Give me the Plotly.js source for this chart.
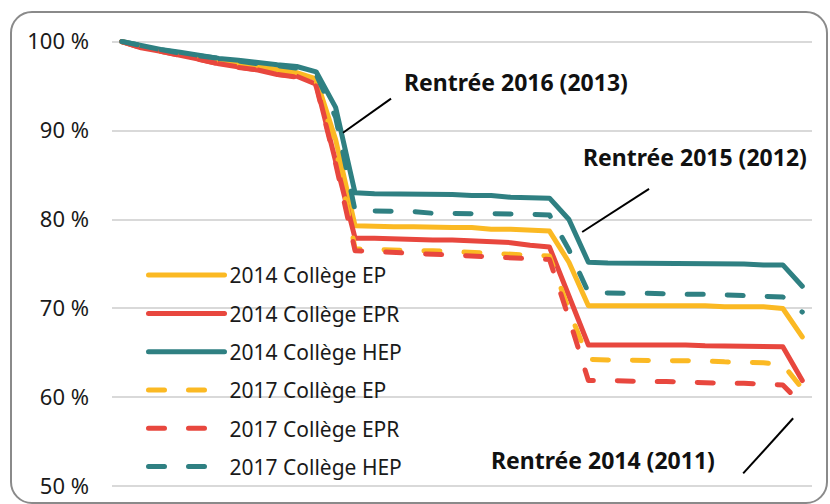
<!DOCTYPE html>
<html>
<head>
<meta charset="utf-8">
<script src="https://cdn.plot.ly/plotly-3.0.1.min.js"></script>
<style>
  html, body { margin: 0; padding: 0; background: #fff; }
  #wrap { position: relative; width: 830px; height: 504px; overflow: hidden; }
  #chart { position: absolute; left: 0; top: 0; width: 830px; height: 504px; }
  #frame { position: absolute; left: 10px; top: 11px; right: 2px; bottom: 0px;
           border: 2px solid #8a8a8a; border-radius: 22px; pointer-events: none; }
  #chart .scatterlayer path.js-line, #chart .legendlines path { stroke-linecap: round; stroke-linejoin: round; }
</style>
</head>
<body>
<div id="wrap">
  <div id="chart"></div>
  <div id="frame"></div>
</div>
<script>
// Month index (no labels shown on the x axis)
const months = [0,1,2,3,4,5,6,7,8,9,10,11,12,13,14,15,16,17,18,19,20,21,22,23,24,25,26,27,28,29,30,31,32,33,34,35];

const seriesNames = ["2014 Collège EP","2014 Collège EPR","2014 Collège HEP","2017 Collège EP","2017 Collège EPR","2017 Collège HEP"];

const ep2014  = [100,99.4,99.0,98.6,98.2,97.8,97.5,97.2,96.9,96.5,95.8,89.0,79.3,79.2,79.2,79.2,79.1,79.1,79.1,78.9,78.9,78.8,78.7,75.2,70.3,70.3,70.3,70.4,70.3,70.3,70.3,70.2,70.2,70.2,70.0,66.8];
const epr2014 = [100,99.3,98.9,98.5,98.0,97.5,97.2,96.8,96.3,96.1,95.2,86.5,77.9,77.9,77.8,77.8,77.7,77.7,77.6,77.5,77.4,77.1,76.9,71.4,65.9,65.9,65.9,65.9,66.0,65.9,65.8,65.8,65.8,65.8,65.7,61.9];
const hep2014 = [100,99.55,99.1,98.8,98.45,98.1,97.9,97.6,97.4,97.2,96.6,92.6,83.0,82.9,82.9,82.8,82.8,82.8,82.7,82.7,82.5,82.5,82.4,80.0,75.2,75.1,75.1,75.1,75.1,75.0,75.0,75.0,75.0,74.9,74.9,72.5];
const ep2017  = [100,99.4,98.9,98.6,98.1,97.7,97.4,97.1,96.8,96.4,95.5,88.2,76.7,76.6,76.6,76.5,76.5,76.4,76.4,76.2,76.2,76.1,75.9,69.8,64.3,64.2,64.2,64.2,64.1,64.1,64.1,64.0,64.0,63.9,63.7,61.0];
const epr2017 = [100,99.3,98.9,98.4,98.0,97.5,97.1,96.8,96.3,96.0,95.0,86.3,76.5,76.4,76.4,76.2,76.2,76.1,76.0,75.9,75.8,75.7,75.5,68.9,61.9,61.9,61.8,61.8,61.8,61.7,61.7,61.6,61.6,61.5,61.4,59.2];
const hep2017 = [100,99.5,99.1,98.7,98.4,98.0,97.8,97.5,97.3,97.0,96.3,91.5,81.0,81.0,80.9,80.9,80.7,80.7,80.7,80.6,80.6,80.6,80.5,76.6,71.8,71.7,71.7,71.7,71.6,71.6,71.6,71.5,71.5,71.3,71.3,69.6];

const yTickVals = [50,60,70,80,90,100];
const yTickText = ["50 %","60 %","70 %","80 %","90 %","100 %"];

const annotationTexts = ["Rentrée 2016 (2013)","Rentrée 2015 (2012)","Rentrée 2014 (2011)"];

const ORANGE = "#FBB923", RED = "#E8473E", TEAL = "#2F8082";
const DASH = "16px,24px";

const seriesValues = [ep2014, epr2014, hep2014, ep2017, epr2017, hep2017];
const seriesColors = [ORANGE, RED, TEAL, ORANGE, RED, TEAL];
const seriesDash = ["solid","solid","solid",DASH,DASH,DASH];

const traces = seriesValues.map((vals, i) => ({
  type: "scatter",
  mode: "lines",
  x: months,
  y: vals,
  name: seriesNames[i],
  legendgroup: "g" + i,
  line: { color: seriesColors[i], width: 5, dash: seriesDash[i] },
  hoverinfo: "skip"
}));

const FONT = "'Noto Sans', 'Open Sans', sans-serif";

const layout = {
  width: 830,
  height: 504,
  margin: { l: 112, r: 18, t: 38.45, b: 14.45, pad: 0 },
  paper_bgcolor: "rgba(0,0,0,0)",
  plot_bgcolor: "rgba(0,0,0,0)",
  font: { family: FONT, size: 21, color: "#1a1a1a" },
  showlegend: true,
  legend: {
    x: 0.045, xanchor: "left",
    y: 0.52, yanchor: "top",
    bgcolor: "rgba(0,0,0,0)",
    font: { family: FONT, size: 21, color: "#1a1a1a" },
    tracegroupgap: 8,
    itemwidth: 76
  },
  xaxis: {
    range: [-0.5, 35.5],
    showgrid: false, zeroline: false, showticklabels: false, showline: false, ticks: ""
  },
  yaxis: {
    range: [49.6, 100.4],
    tickvals: yTickVals,
    ticktext: yTickText,
    showgrid: true, gridcolor: "#d9d9d9", gridwidth: 2,
    zeroline: false, showline: false, ticks: "",
    ticklabelstandoff: 22,
    tickfont: { family: FONT, size: 22, color: "#1a1a1a" }
  },
  shapes: [
    { type: "line", xref: "x", yref: "y", x0: 11.38, y0: 89.75, x1: 13.85, y1: 93.58, line: { color: "#000", width: 2 } },
    { type: "line", xref: "x", yref: "y", x0: 23.68, y0: 78.6, x1: 27.12, y1: 83.45, line: { color: "#000", width: 2 } },
    { type: "line", xref: "x", yref: "y", x0: 31.96, y0: 51.46, x1: 34.53, y1: 57.66, line: { color: "#000", width: 2 } }
  ],
  annotations: [
    { x: 20.27, y: 95.5, xref: "x", yref: "y", text: "<b>" + annotationTexts[0] + "</b>", showarrow: false, xanchor: "center", yanchor: "middle", font: { family: FONT, size: 23, color: "#111" } },
    { x: 29.46, y: 87.05, xref: "x", yref: "y", text: "<b>" + annotationTexts[1] + "</b>", showarrow: false, xanchor: "center", yanchor: "middle", font: { family: FONT, size: 23, color: "#111" } },
    { x: 24.76, y: 52.93, xref: "x", yref: "y", text: "<b>" + annotationTexts[2] + "</b>", showarrow: false, xanchor: "center", yanchor: "middle", font: { family: FONT, size: 23, color: "#111" } }
  ]
};

Plotly.newPlot("chart", traces, layout, { staticPlot: true, displayModeBar: false });
</script>
</body>
</html>
